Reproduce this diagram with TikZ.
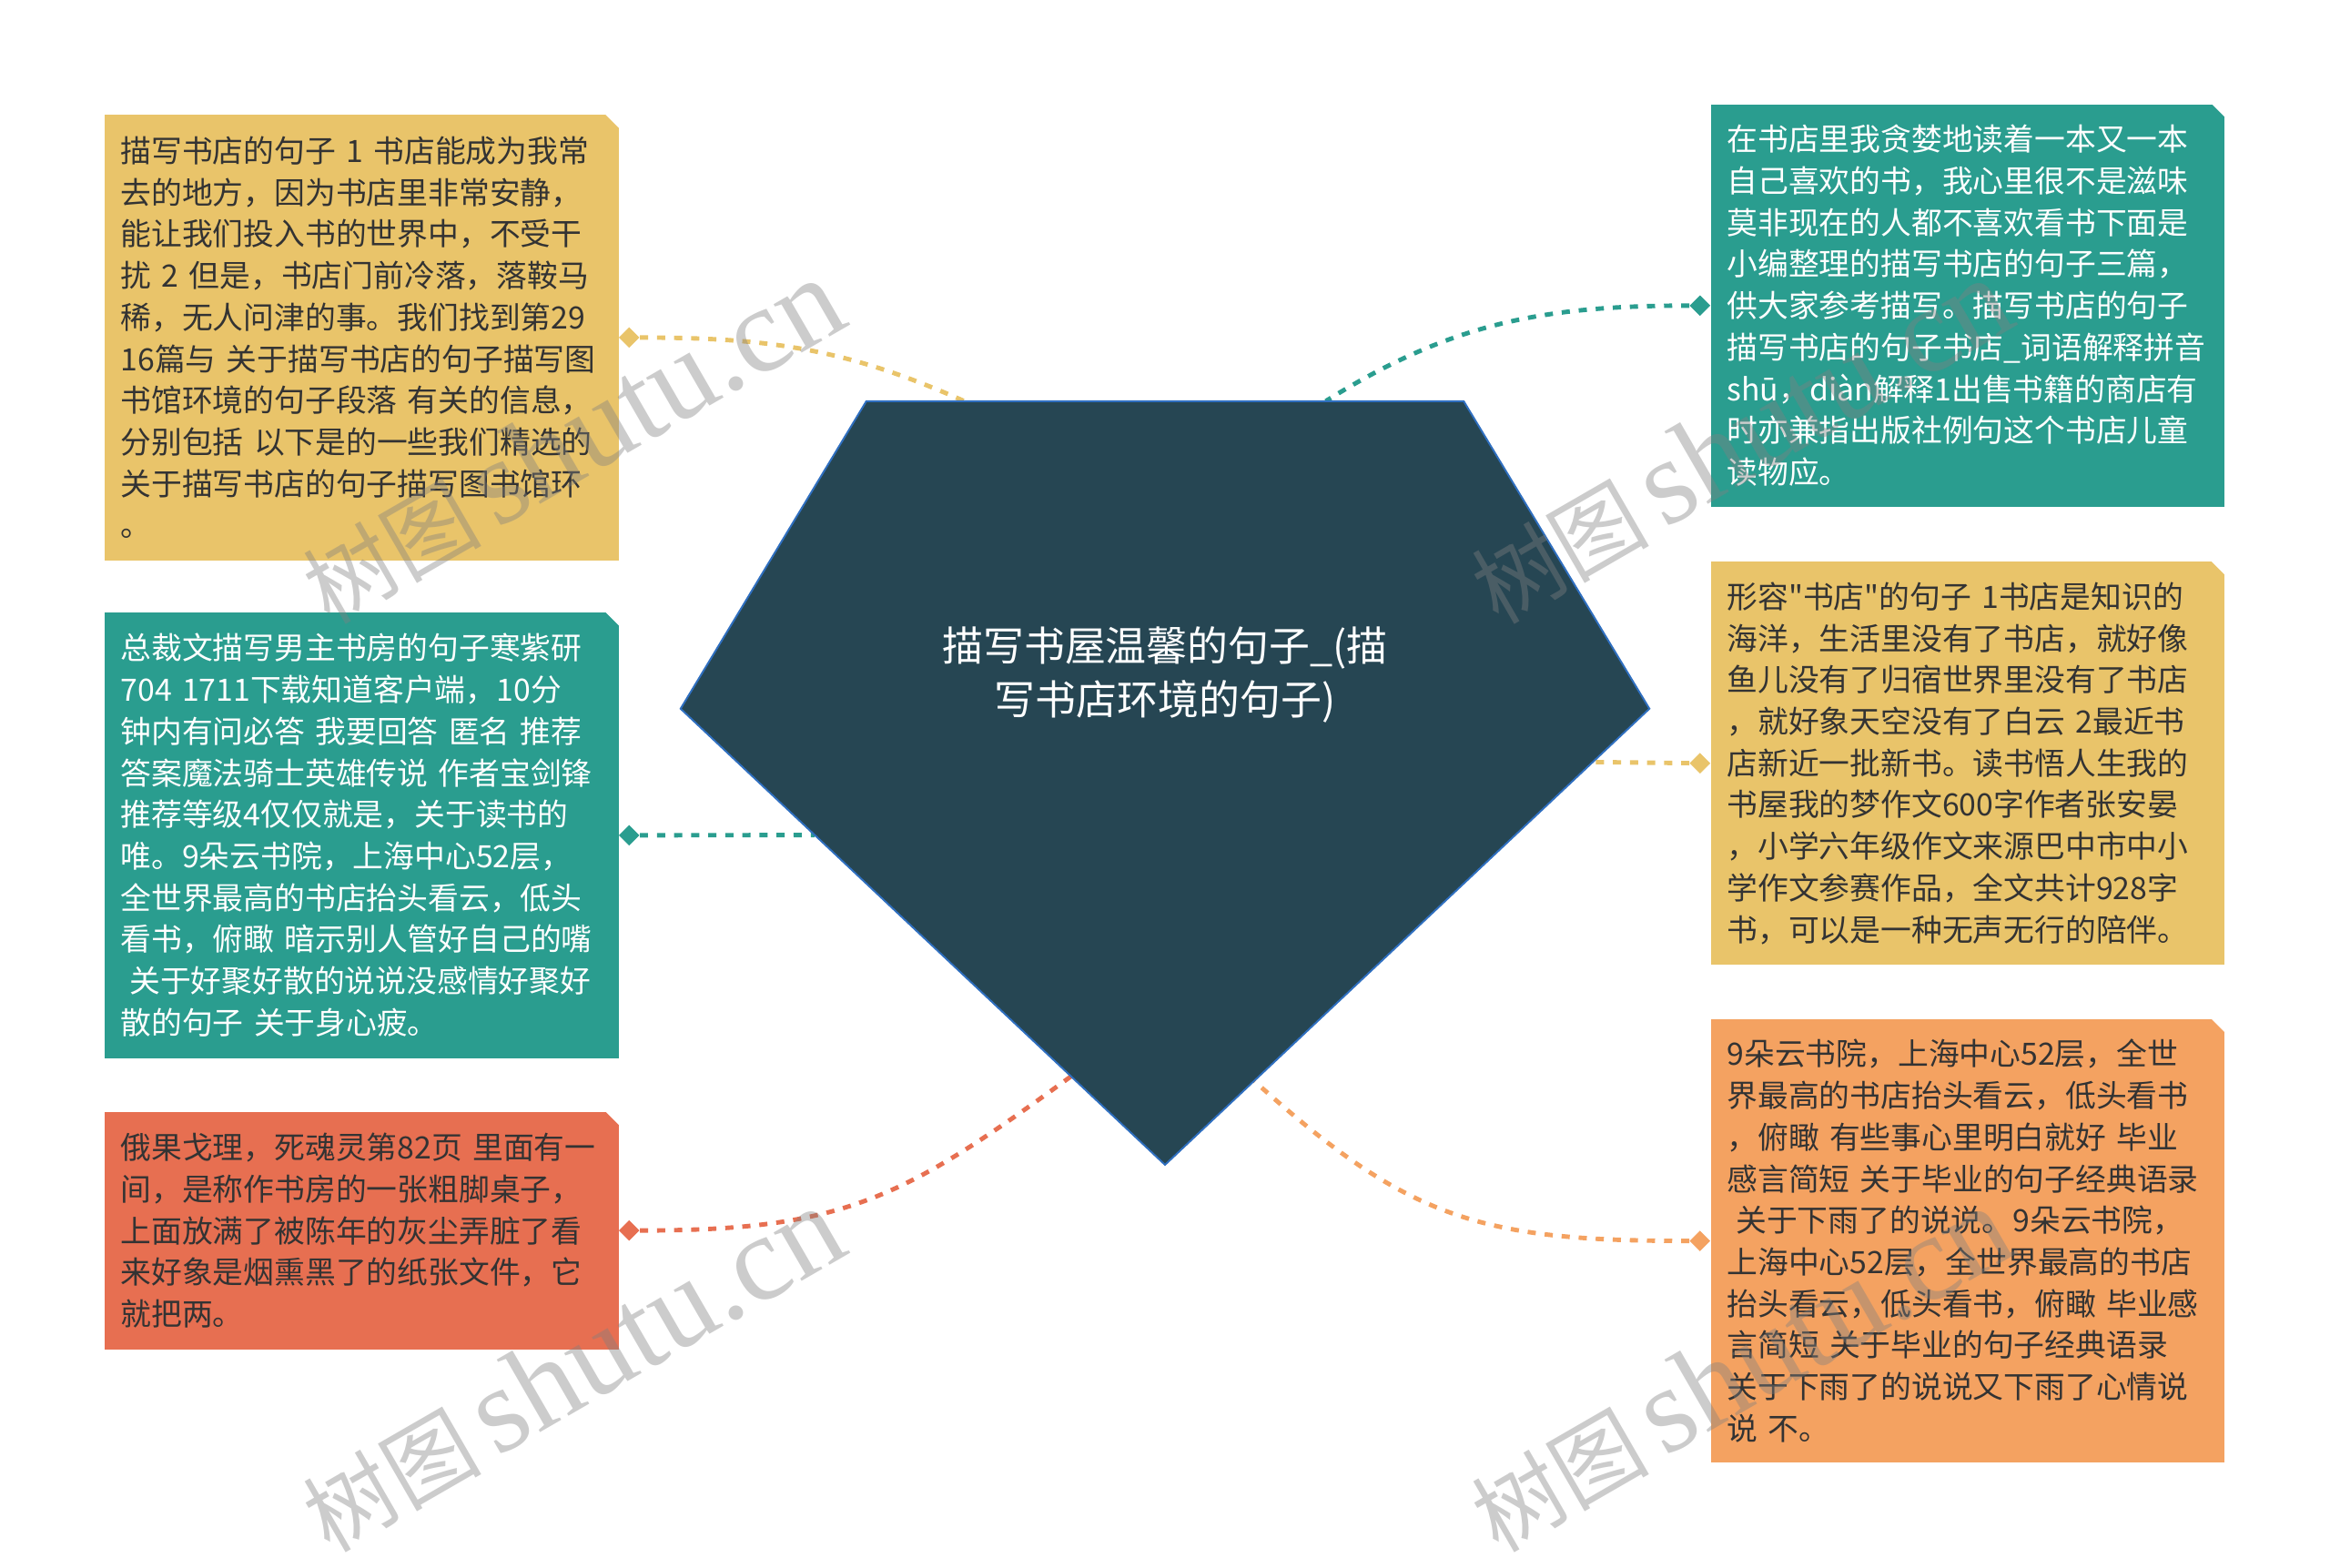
\documentclass[tikz,border=0pt]{standalone}
\usepackage{fontspec}
\setmainfont{Noto Sans CJK SC}
\newfontfamily\plainfont{Noto Sans CJK SC}
\newfontfamily\wmlatin{Liberation Serif}
\usepackage{xcolor}
\definecolor{sand}{HTML}{E9C46A}
\definecolor{leafteal}{HTML}{2A9D8F}
\definecolor{coral}{HTML}{E76F51}
\definecolor{peach}{HTML}{F4A261}
\definecolor{slate}{HTML}{264653}
\definecolor{rim}{HTML}{2F6FC0}
\definecolor{ink}{HTML}{333333}
\usepackage{tikz}
\usetikzlibrary{calc,shapes.geometric}
\tikzset{
  leaf/.style={rectangle, anchor=north west, minimum width=346pt, text width=324pt,
    inner xsep=11pt, inner ysep=0pt, align=left, text=ink,
    font=\fontsize{20.7}{28}\selectfont},
  tip/.style={diamond, minimum size=14pt, inner sep=0pt},
  link/.style={line width=3pt, dash pattern=on 5.5pt off 6pt},
  wmark/.style={text=gray, opacity=0.4, rotate=30, anchor=base west, inner sep=0pt}
}
\newcommand{\wmtext}{\fontsize{60}{60}\selectfont 树图\,{\wmlatin\fontsize{82}{82}\selectfont shutu.cn}}

\begin{document}
\begin{tikzpicture}[x=1pt,y=1pt]
\useasboundingbox (0,0) rectangle (1568,1055);

% left side
\node[leaf, fill=sand, minimum height=300pt] (b1) at (70,978) {描写书店的句子~1~书店能成为我常\\去的地方，因为书店里非常安静，\\能让我们投入书的世界中，不受干\\扰~2~但是，书店门前冷落，落鞍马\\稀，无人问津的事。我们找到第29\\16篇与~关于描写书店的句子描写图\\书馆环境的句子段落~有关的信息，\\分别包括~以下是的一些我们精选的\\关于描写书店的句子描写图书馆环\\。};
\node[leaf, fill=leafteal, text=white, minimum height=300pt] (b2) at (70,643) {总裁文描写男主书房的句子寒紫研\\704~1711下载知道客户端，10分\\钟内有问必答~我要回答~匿名~推荐\\答案魔法骑士英雄传说~作者宝剑锋\\推荐等级4仅仅就是，关于读书的\\唯。9朵云书院，上海中心52层，\\全世界最高的书店抬头看云，低头\\看书，俯瞰~暗示别人管好自己的嘴\\\hspace*{6pt}关于好聚好散的说说没感情好聚好\\散的句子~关于身心疲。};
\node[leaf, fill=coral, minimum height=160pt] (b3) at (70,307) {俄果戈理，死魂灵第82页~里面有一\\间，是称作书房的一张粗脚桌子，\\上面放满了被陈年的灰尘弄脏了看\\来好象是烟熏黑了的纸张文件，它\\就把两。};

% right side
\node[leaf, fill=leafteal, text=white, minimum height=271pt] (b4) at (1151,985) {在书店里我贪婪地读着一本又一本\\自己喜欢的书，我心里很不是滋味\\莫非现在的人都不喜欢看书下面是\\小编整理的描写书店的句子三篇，\\供大家参考描写。描写书店的句子\\描写书店的句子书店\_词语解释拼音\\shū，diàn解释1出售书籍的商店有\\时亦兼指出版社例句这个书店儿童\\读物应。};
\node[leaf, fill=sand, minimum height=271pt] (b5) at (1151,677) {形容{\plainfont"}书店{\plainfont"}的句子~1书店是知识的\\海洋，生活里没有了书店，就好像\\鱼儿没有了归宿世界里没有了书店\\，就好象天空没有了白云~2最近书\\店新近一批新书。读书悟人生我的\\书屋我的梦作文600字作者张安晏\\，小学六年级作文来源巴中市中小\\学作文参赛作品，全文共计928字\\书，可以是一种无声无行的陪伴。};
\node[leaf, fill=peach, minimum height=298pt] (b6) at (1151,369) {9朵云书院，上海中心52层，全世\\界最高的书店抬头看云，低头看书\\，俯瞰~有些事心里明白就好~毕业\\感言简短~关于毕业的句子经典语录\\\hspace*{6pt}关于下雨了的说说。9朵云书院，\\上海中心52层，全世界最高的书店\\抬头看云，低头看书，俯瞰~毕业感\\言简短~关于毕业的句子经典语录\\关于下雨了的说说又下雨了心情说\\说~不。};

% cut corners
\fill[white] (b1.north east) -- ++(-9,0) -- ++(9,-9) -- cycle;
\fill[white] (b2.north east) -- ++(-9,0) -- ++(9,-9) -- cycle;
\fill[white] (b3.north east) -- ++(-9,0) -- ++(9,-9) -- cycle;
\fill[white] (b4.north east) -- ++(-9,0) -- ++(9,-9) -- cycle;
\fill[white] (b5.north east) -- ++(-9,0) -- ++(9,-9) -- cycle;
\fill[white] (b6.north east) -- ++(-9,0) -- ++(9,-9) -- cycle;

\node[tip, fill=sand] (t1) at ($(b1.east)+(7,0)$) {};
\node[tip, fill=leafteal] (t2) at ($(b2.east)+(7,0)$) {};
\node[tip, fill=coral] (t3) at ($(b3.east)+(7,0)$) {};
\node[tip, fill=leafteal] (t4) at ($(b4.west)+(-7,0)$) {};
\node[tip, fill=sand] (t5) at ($(b5.west)+(-7,0)$) {};
\node[tip, fill=peach] (t6) at ($(b6.west)+(-7,0)$) {};

% centre shape
\coordinate (pA) at (583,785);
\coordinate (pB) at (985,785);
\coordinate (pC) at (1110,578);
\coordinate (pD) at (784,271);
\coordinate (pE) at (458,578);

\coordinate (e1) at ($(pA)!0.164!(pB)$);
\coordinate (e2) at ($(pE)!0.277!(pD)$);
\coordinate (e3) at ($(pE)!0.806!(pD)$);
\coordinate (e4) at ($(pA)!0.769!(pB)$);
\coordinate (e5) at ($(pC)!0.117!(pD)$);
\coordinate (e6) at ($(pC)!0.816!(pD)$);

\draw[link, sand] (t1) to[out=0,in=156] (e1);
\draw[link, leafteal] (t2) -- (e2);
\draw[link, coral] (t3) to[out=0,in=216,looseness=1.15] (e3);
\draw[link, leafteal] (t4) to[out=180,in=32] (e4);
\draw[link, sand] (t5) -- (e5);
\draw[link, peach] (t6) to[out=180,in=-42,looseness=1.15] (e6);

\draw[fill=slate, draw=rim, line width=1.2pt] (pA) -- (pB) -- (pC) -- (pD) -- (pE) -- cycle;
\node[text=white, align=center, font=\fontsize{27.5}{36}\selectfont] (root) at (784,601) {描写书屋温馨的句子\_(描\\写书店环境的句子)};

% watermarks
\node[wmark] (wm1) at (222,634) {\wmtext};
\node[wmark] (wm2) at (222,9) {\wmtext};
\node[wmark] (wm3) at (1008,634) {\wmtext};
\node[wmark] (wm4) at (1008,9) {\wmtext};

\end{tikzpicture}
\end{document}
